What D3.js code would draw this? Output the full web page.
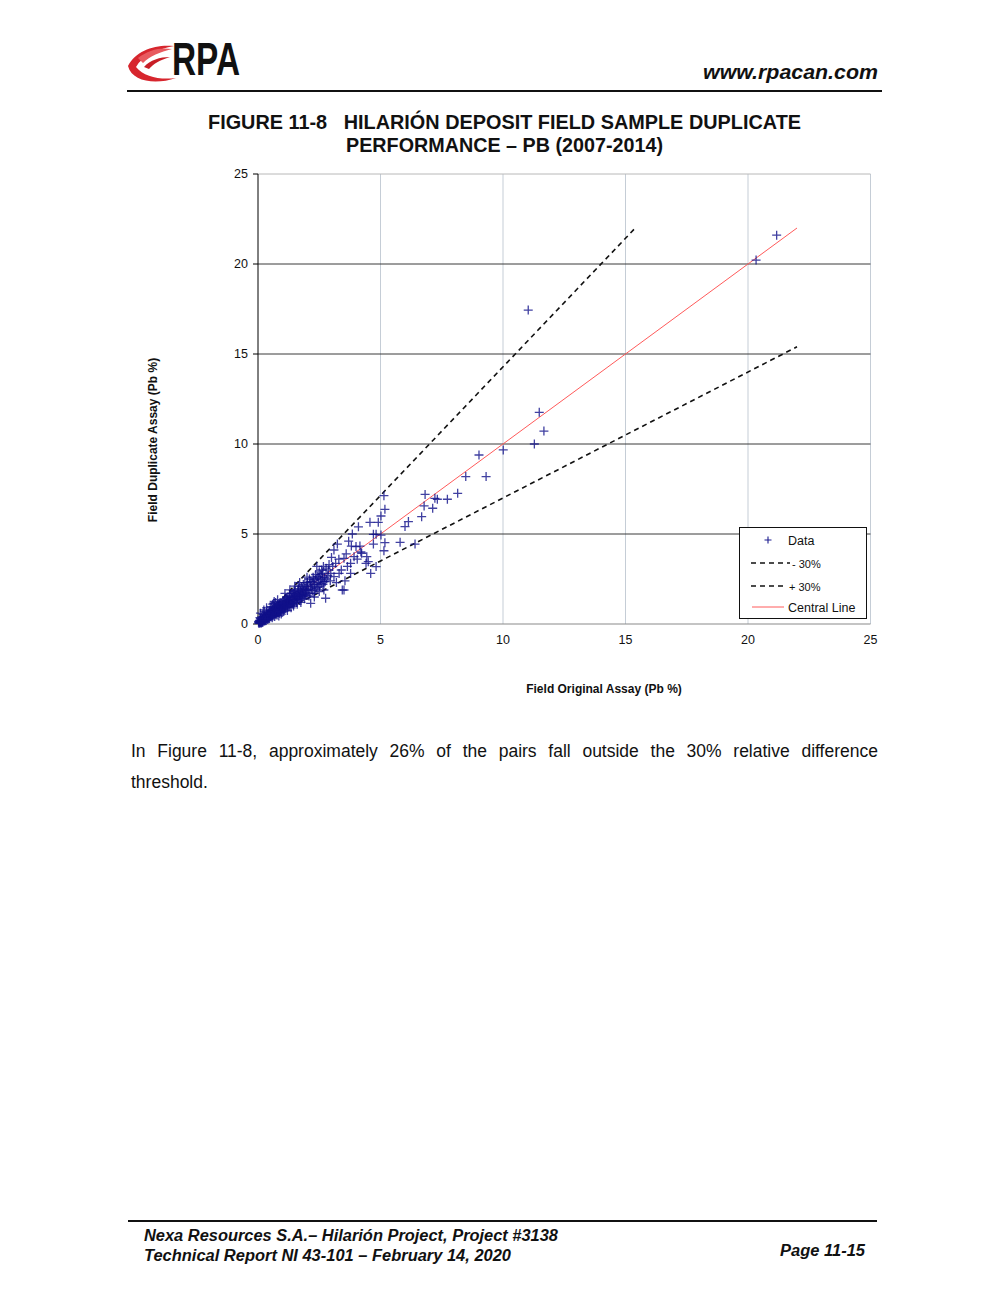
<!DOCTYPE html>
<html><head><meta charset="utf-8">
<script src="https://cdn.jsdelivr.net/npm/d3@7"></script>
<style>body{margin:0;background:#fff}svg{display:block}</style>
</head><body>
<svg id="c" width="1008" height="1300"></svg>
<script>
// ---- data ----
const xTicks = [0, 5, 10, 15, 20, 25];
const yTicks = [0, 5, 10, 15, 20, 25];
const pairs = [
[0.05,0.08],[0.08,0.05],[0.1,0.12],[0.12,0.1],[0.15,0.2],[0.18,0.14],[0.2,0.25],[0.22,0.18],[0.25,0.3],[0.27,0.22],
[0.3,0.35],[0.3,0.26],[0.32,0.4],[0.35,0.3],[0.36,0.45],[0.38,0.33],[0.4,0.5],[0.4,0.36],[0.42,0.6],[0.44,0.38],
[0.45,0.52],[0.47,0.3],[0.5,0.55],[0.5,0.42],[0.02,0.1],[0.06,0.2],[0.1,0.3],[0.14,0.05],[0.2,0.1],[0.25,0.15],
[0.28,0.5],[0.33,0.2],[0.15,0.4],[0.2,0.55],[0.08,0.35],[0.12,0.25],[0.18,0.3],[0.23,0.4],[0.38,0.25],[0.43,0.28],
[0.04,0.03],[0.07,0.12],[0.11,0.07],[0.16,0.17],[0.24,0.27],[0.34,0.34],[0.1,0.6],[0.25,0.7],[0.35,0.65],[0.48,0.75],
[0.52,0.62],[0.55,0.45],[0.57,0.7],[0.6,0.5],[0.6,0.75],[0.62,0.58],[0.65,0.85],[0.67,0.55],[0.7,0.72],[0.7,0.9],
[0.72,0.6],[0.75,0.8],[0.76,0.62],[0.78,1.0],[0.8,0.7],[0.82,0.88],[0.84,0.65],[0.85,1.05],[0.88,0.78],[0.9,0.95],
[0.9,1.2],[0.92,0.72],[0.95,1.0],[0.97,0.82],[1.0,1.1],[0.55,0.95],[0.6,1.1],[0.72,1.2],[0.8,1.35],[0.58,0.35],
[0.68,0.42],[0.78,0.5],[0.88,0.6],[0.98,0.65],[0.63,0.66],[0.74,0.7],[0.86,0.9],[0.66,1.25],[0.85,0.45],[0.95,0.55],
[1.02,0.85],[1.05,1.25],[1.08,1.0],[1.1,1.4],[1.12,0.9],[1.15,1.15],[1.18,1.3],[1.2,0.95],[1.22,1.5],[1.25,1.1],
[1.28,1.35],[1.3,1.0],[1.32,1.6],[1.35,1.25],[1.38,1.45],[1.4,1.15],[1.42,1.7],[1.45,1.3],[1.48,1.55],[1.5,1.2],
[1.52,1.85],[1.55,1.5],[1.58,1.35],[1.6,1.75],[1.62,1.4],[1.65,1.95],[1.68,1.55],[1.7,1.3],[1.72,1.8],[1.75,1.6],
[1.78,2.05],[1.8,1.5],[1.82,1.7],[1.85,2.2],[1.88,1.65],[1.9,1.4],[1.92,1.95],[1.95,1.75],[1.98,2.1],[1.05,0.7],
[1.2,0.75],[1.35,0.9],[1.45,1.0],[1.6,1.1],[1.75,1.2],[1.1,1.7],[1.3,1.9],[1.5,2.1],[1.7,2.3],[1.15,1.2],
[2.0,1.6],[2.02,2.3],[2.05,1.9],[2.1,2.5],[2.12,1.7],[2.15,2.1],[2.15,1.15],[2.2,2.35],[2.22,1.85],[2.25,2.6],
[2.29,1.7],[2.3,2.2],[2.35,2.75],[2.38,2.0],[2.42,2.63],[2.45,2.3],[2.5,2.9],[2.52,2.1],[2.55,2.45],[2.6,3.0],
[2.63,2.81],[2.65,2.2],[2.69,2.35],[2.69,1.89],[2.72,2.6],[2.76,1.43],[2.78,3.1],[2.8,2.5],[2.85,2.7],[2.9,3.3],
[2.95,2.4],[2.97,2.81],[2.3,1.5],[2.5,1.8],[2.0,2.6],[2.4,3.2],
[0.03,0.15],[0.09,0.18],[0.13,0.16],[0.17,0.08],[0.19,0.22],[0.21,0.32],[0.26,0.2],[0.29,0.38],[0.31,0.18],[0.37,0.42],
[0.39,0.55],[0.41,0.3],[0.46,0.62],[0.49,0.48],[0.53,0.4],[0.54,0.72],[0.56,0.58],[0.59,0.82],[0.61,0.45],[0.64,0.7],
[0.66,0.95],[0.69,0.62],[0.71,0.8],[0.73,0.52],[0.77,0.92],[0.79,0.75],[0.81,1.1],[0.83,0.78],[0.87,1.0],[0.89,0.7],
[0.91,1.05],[0.93,0.88],[0.96,1.15],[0.99,0.9],[1.01,1.3],[1.04,1.05],[1.07,0.8],[1.09,1.2],[1.13,1.05],[1.16,1.45],
[1.19,1.1],[1.23,1.3],[1.26,0.95],[1.29,1.55],[1.33,1.15],[1.37,1.7],[1.41,1.35],[1.44,1.1],[1.47,1.8],[1.51,1.4],
[1.54,1.65],[1.57,1.2],[1.61,1.55],[1.64,2.1],[1.67,1.45],[1.71,1.65],[1.74,1.9],[1.77,1.4],[1.81,1.95],[1.84,1.55],
[1.87,1.85],[1.91,2.3],[1.94,1.6],[1.97,1.9],[2.03,2.05],[2.08,1.55],[2.13,2.35],[2.18,1.95],[2.24,2.2],[2.28,2.45],
[2.33,1.9],[2.37,2.5],[2.44,2.05],[2.48,2.55],[2.56,2.75],[2.58,2.25],[2.62,2.6],[2.67,3.2],[2.74,2.35],[2.88,3.0],
[0.65,1.15],[0.24,0.78],[1.2,1.33],[1.47,1.7],[0.5,0.95],[0.35,0.9],
[3.1,4.11],[3.1,2.63],[3.17,3.37],[3.24,4.44],[3.31,2.81],[3.44,1.89],[3.51,3.65],[3.51,1.89],[3.78,3.37],[3.78,2.81],
[3.81,4.33],[3.92,3.74],[4.16,4.33],[3.05,3.2],[3.3,3.6],[3.4,3.0],[3.6,3.9],[3.65,3.2],[3.7,4.6],[3.85,5.0],
[4.0,4.3],[4.05,3.6],[4.1,5.4],[4.2,4.0],[3.2,2.3],[3.55,2.4],[3.0,3.7],[4.23,3.93],[4.41,3.37],[4.44,3.74],
[4.5,3.46],[4.57,5.65],[4.6,2.81],[4.71,4.98],[4.71,4.44],[4.82,3.19],[4.91,5.65],[4.82,4.98],
[5.02,6.0],[5.02,4.94],[5.14,7.13],[5.18,6.37],[5.18,4.52],[5.14,4.07],[5.8,4.54],[6.0,5.41],[6.14,5.69],[6.41,4.44],
[6.68,5.96],[6.78,6.56],[6.82,7.2],[7.13,6.43],[7.22,6.98],[7.32,6.93],[7.73,6.93],[8.15,7.26],[8.48,8.19],[9.31,8.19],
[9.02,9.39],[10.01,9.67],[11.28,10.0],[11.48,11.76],[11.67,10.72],[11.03,17.44],[20.33,20.22],[21.17,21.6]
];
const centralLine = [[0,0],[22,22]];
const plus30Line = [[0,0],[15.4,22]];
const minus30Line = [[0,0],[22,15.4]];
const legendItems = ["Data", "- 30%", "+ 30%", "Central Line"];

// ---- drawing ----
const svg = d3.select("#c");
const F = "'Liberation Sans', Arial, sans-serif";

// header
const logo = svg.append("g");
logo.append("path").attr("d","M128,66 C136,50 156,44 174,46 C158,49 142,56 136,67 C144,77 160,80 176,78 C156,85 132,82 128,66 Z").attr("fill","#d7262e");
logo.append("path").attr("d","M138,58 C148,50 160,47 172,49 C160,52 150,56 143,63 Z").attr("fill","#e85a5f");
logo.append("path").attr("d","M144,67 C150,60 160,57 170,57 C160,60 153,64 149,69 Z").attr("fill","#c81e26");
logo.append("text").attr("x",172).attr("y",75).attr("font-family","'Liberation Sans Narrow', 'Liberation Sans', Arial").attr("font-size",46).attr("font-weight","bold").attr("textLength",68).attr("lengthAdjust","spacingAndGlyphs").attr("fill","#111").text("RPA");
svg.append("text").attr("x",878).attr("y",79).attr("text-anchor","end").attr("font-family",F).attr("font-size",20).attr("font-weight","bold").attr("font-style","italic").attr("textLength",175).attr("lengthAdjust","spacingAndGlyphs").attr("fill","#111").text("www.rpacan.com");
svg.append("line").attr("x1",127).attr("x2",882).attr("y1",91).attr("y2",91).attr("stroke","#111").attr("stroke-width",2);

// title
svg.append("text").attr("x",208).attr("y",129).attr("font-family",F).attr("font-size",19.5).attr("font-weight","bold").attr("textLength",593).attr("lengthAdjust","spacingAndGlyphs").attr("fill","#111").text("FIGURE 11-8\u00a0\u00a0\u00a0HILARIÓN DEPOSIT FIELD SAMPLE DUPLICATE");
svg.append("text").attr("x",346).attr("y",152).attr("font-family",F).attr("font-size",19.5).attr("font-weight","bold").attr("textLength",317).attr("lengthAdjust","spacingAndGlyphs").attr("fill","#111").text("PERFORMANCE – PB (2007-2014)");

// chart
const x = d3.scaleLinear().domain([0,25]).range([258,870.5]);
const y = d3.scaleLinear().domain([0,25]).range([624,174]);
const g = svg.append("g");

g.selectAll(".vg").data(xTicks.filter(d=>d>0)).join("line")
 .attr("x1",d=>x(d)).attr("x2",d=>x(d)).attr("y1",y(0)).attr("y2",y(25))
 .attr("stroke","#c5cdd6").attr("stroke-width",1);
g.selectAll(".hg").data(yTicks.filter(d=>d>0 && d<25)).join("line")
 .attr("x1",x(0)).attr("x2",x(25)).attr("y1",d=>y(d)).attr("y2",d=>y(d))
 .attr("stroke","#3a3a3a").attr("stroke-width",1);
g.append("line").attr("x1",x(0)).attr("x2",x(25)).attr("y1",y(25)).attr("y2",y(25)).attr("stroke","#b8b8b8");
g.append("line").attr("x1",x(0)).attr("x2",x(25)).attr("y1",y(0)).attr("y2",y(0)).attr("stroke","#8a8a8a").attr("stroke-width",1.2);
g.append("line").attr("x1",x(0)).attr("x2",x(0)).attr("y1",y(0)).attr("y2",y(25)).attr("stroke","#000");

g.selectAll(".yt").data(yTicks).join("line").attr("x1",x(0)-5).attr("x2",x(0)).attr("y1",d=>y(d)).attr("y2",d=>y(d)).attr("stroke","#000");
g.selectAll(".yl").data(yTicks).join("text").attr("x",248).attr("y",d=>y(d)+4).attr("text-anchor","end")
 .attr("font-family",F).attr("font-size",12.5).attr("fill","#111").text(d=>d);
g.selectAll(".xl").data(xTicks).join("text").attr("x",d=>x(d)).attr("y",644).attr("text-anchor","middle")
 .attr("font-family",F).attr("font-size",12.5).attr("fill","#111").text(d=>d);

svg.append("text").attr("transform","translate(157,440) rotate(-90)").attr("text-anchor","middle")
 .attr("font-family",F).attr("font-size",12).attr("font-weight","bold").attr("fill","#111").text("Field Duplicate Assay (Pb %)");
svg.append("text").attr("x",604).attr("y",693).attr("text-anchor","middle")
 .attr("font-family",F).attr("font-size",12).attr("font-weight","bold").attr("fill","#111").text("Field Original Assay (Pb %)");

const line = d3.line().x(d=>x(d[0])).y(d=>y(d[1]));
g.append("path").attr("d",line(plus30Line)).attr("stroke","#111").attr("stroke-width",1.6).attr("stroke-dasharray","5,4").attr("fill","none");
g.append("path").attr("d",line(minus30Line)).attr("stroke","#111").attr("stroke-width",1.6).attr("stroke-dasharray","5,4").attr("fill","none");
g.append("path").attr("d",line(centralLine)).attr("stroke","#ff5a5a").attr("stroke-width",1).attr("fill","none");

const plus = "M-4.5,0H4.5M0,-4.5V4.5";
g.selectAll(".pt").data(pairs).join("path")
 .attr("transform",d=>`translate(${x(d[0])},${y(d[1])})`)
 .attr("d",plus).attr("stroke","#10108a").attr("stroke-width",1.3).attr("stroke-opacity",0.8).attr("fill","none");

// legend
const lg = svg.append("g");
lg.append("rect").attr("x",739.5).attr("y",527.5).attr("width",127).attr("height",91).attr("fill","#fff").attr("stroke","#111");
const ly = [540, 563, 586, 607];
lg.append("path").attr("transform",`translate(768,${ly[0]})`).attr("d","M-3.5,0H3.5M0,-3.5V3.5").attr("stroke","#1c1c8f").attr("stroke-width",1.1);
lg.append("line").attr("x1",751).attr("x2",790).attr("y1",ly[1]).attr("y2",ly[1]).attr("stroke","#111").attr("stroke-width",1.4).attr("stroke-dasharray","5,4");
lg.append("line").attr("x1",751).attr("x2",786).attr("y1",ly[2]).attr("y2",ly[2]).attr("stroke","#111").attr("stroke-width",1.4).attr("stroke-dasharray","5,4");
lg.append("line").attr("x1",752).attr("x2",784).attr("y1",ly[3]).attr("y2",ly[3]).attr("stroke","#ff5a5a").attr("stroke-width",1);
const lx = [788, 792, 789, 788];
const lfs = [12.5, 11, 11, 12.5];
legendItems.forEach((t,i)=>{
  lg.append("text").attr("x",lx[i]).attr("y",ly[i]+4.5).attr("font-family",F).attr("font-size",lfs[i]).attr("fill","#111").text(t);
});

// body text (justified)
const words = "In Figure 11-8, approximately 26% of the pairs fall outside the 30% relative difference".split(" ");
const bt = svg.append("g").attr("font-family",F).attr("font-size",17.5).attr("fill","#111");
const nodes = words.map(w=>bt.append("text").attr("y",757).text(w));
const widths = nodes.map(n=>n.node().getComputedTextLength());
const total = d3.sum(widths);
const gap = (878-131-total)/(words.length-1);
let cx = 131;
nodes.forEach((n,i)=>{ n.attr("x",cx); cx += widths[i]+gap; });
bt.append("text").attr("x",131).attr("y",788).text("threshold.");

// footer
svg.append("line").attr("x1",128).attr("x2",877).attr("y1",1221).attr("y2",1221).attr("stroke","#111").attr("stroke-width",2);
const ft = svg.append("g").attr("font-family",F).attr("font-size",16).attr("font-weight","bold").attr("font-style","italic").attr("fill","#111");
ft.append("text").attr("x",144).attr("y",1241).attr("textLength",414).attr("lengthAdjust","spacingAndGlyphs").text("Nexa Resources S.A.– Hilarión Project, Project #3138");
ft.append("text").attr("x",144).attr("y",1261).attr("textLength",367).attr("lengthAdjust","spacingAndGlyphs").text("Technical Report NI 43-101 – February 14, 2020");
ft.append("text").attr("x",865).attr("y",1256).attr("text-anchor","end").attr("textLength",85).attr("lengthAdjust","spacingAndGlyphs").text("Page 11-15");
</script>
</body></html>
